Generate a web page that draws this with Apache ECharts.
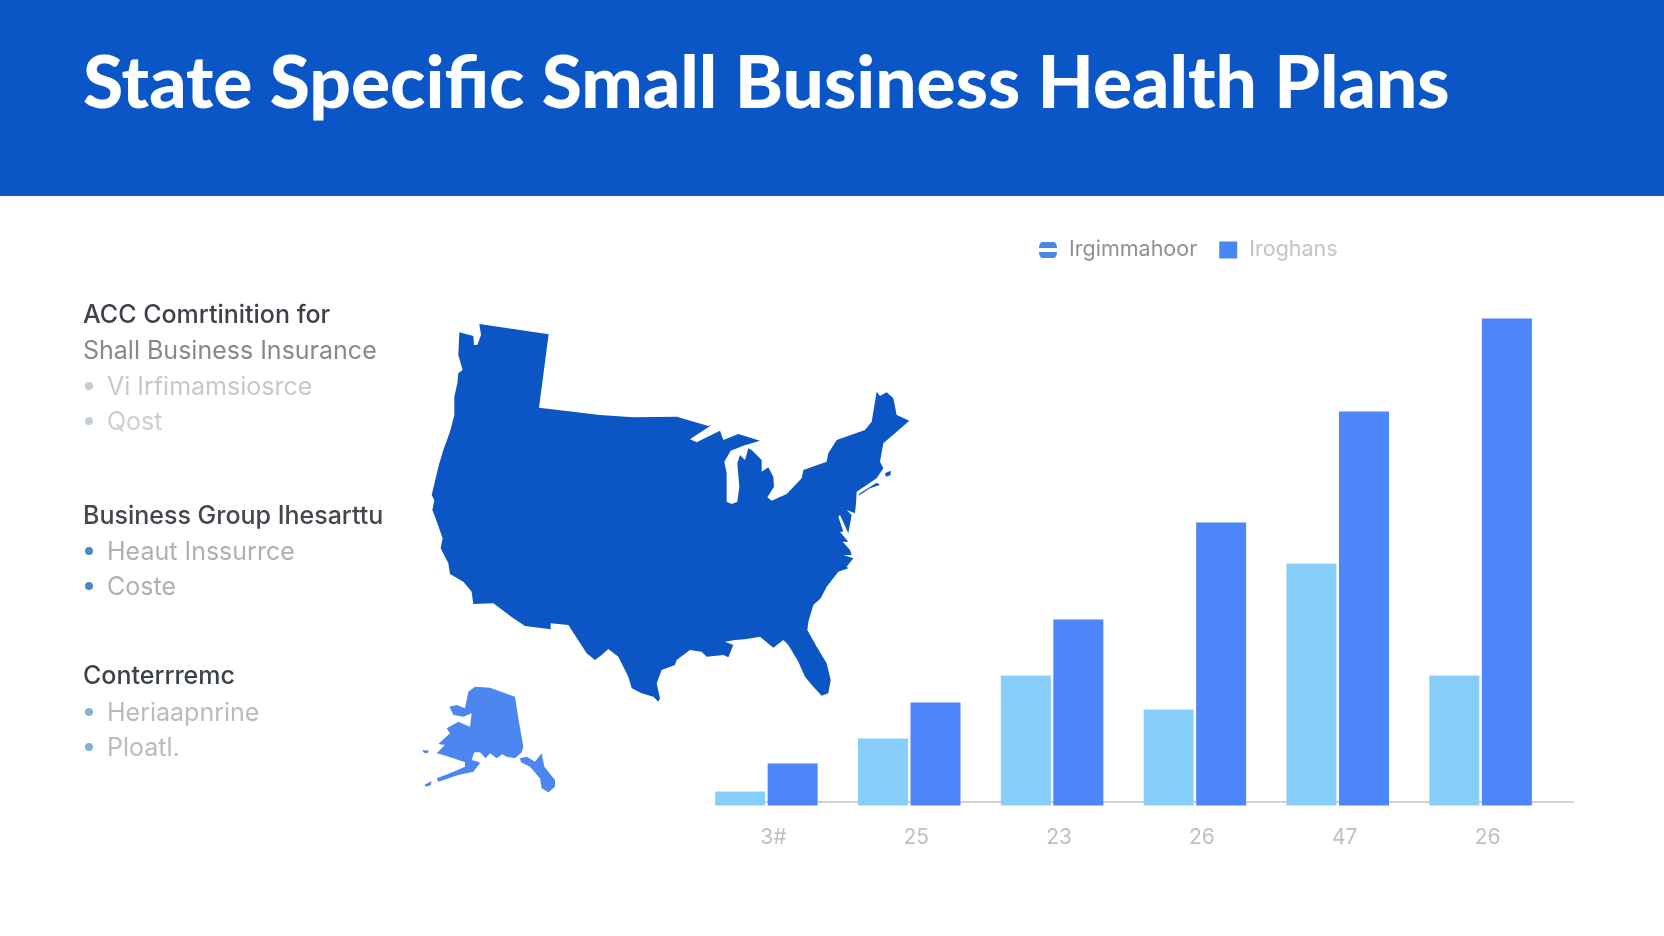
<!DOCTYPE HTML>
<html lang="en">
<head>
    <meta charset="utf-8">
    <title>State Specific Small Business Health Plans</title>
    <style>
        html, body { margin: 0; padding: 0; background: #fff; }
        #myChart { width: 1664px; height: 936px; }
    </style>
</head>
<body>
<div id="myChart"></div>
<script src="https://cdn.jsdelivr.net/npm/echarts@6/dist/echarts.min.js"></script>
<script>
    var titleText = 'State Specific Small Business Health Plans';

    // bars
    var categories = ['3#', '25', '23', '26', '47', '26'];
    var seriesNames = ['Irgimmahoor', 'Iroghans'];
    var lightValues = [14, 67, 130, 96, 242, 130];
    var darkValues = [42, 103, 186, 283, 394, 487];

    // left column text
    var headingLines = ['ACC Comrtinition for', 'Shall Business Insurance', 'Business Group Ihesarttu', 'Conterrremc'];
    var bulletLines = ['Vi Irfimamsiosrce', 'Qost', 'Heaut Inssurrce', 'Coste', 'Heriaapnrine', 'Ploatl.'];

    // map shapes, traced in their own units (y grows downwards)
    var mainlandOutline = [[178,97],[220,108],[222,135],[232,135],[243,105],[238,72],[446,103],[417,323],[600,345],[700,352],[830,350],[925,378],[935,375],[870,418],[890,427],[960,392],[970,420],[1015,402],[1080,422],[1030,437],[992,452],[973,485],[980,520],[980,605],[995,612],[1012,605],[1018,560],[1012,490],[1020,465],[1035,480],[1045,445],[1055,450],[1085,480],[1085,515],[1105,502],[1120,530],[1122,560],[1102,592],[1115,602],[1160,582],[1205,535],[1210,510],[1280,485],[1285,460],[1310,420],[1395,390],[1415,365],[1430,275],[1440,288],[1460,277],[1480,295],[1490,345],[1528,362],[1490,395],[1450,430],[1440,485],[1450,505],[1430,535],[1370,575],[1368,610],[1365,640],[1340,630],[1355,645],[1345,700],[1320,645],[1315,650],[1330,695],[1320,695],[1345,725],[1328,725],[1350,750],[1355,765],[1330,765],[1360,775],[1340,800],[1345,805],[1315,815],[1280,860],[1262,895],[1240,915],[1225,965],[1222,990],[1250,1040],[1280,1090],[1292,1140],[1285,1180],[1265,1187],[1240,1160],[1215,1130],[1195,1085],[1165,1035],[1150,1020],[1120,1043],[1080,1010],[1035,1018],[1005,1020],[975,1025],[1000,1035],[985,1072],[970,1065],[920,1070],[905,1055],[870,1050],[830,1080],[825,1095],[785,1110],[770,1150],[780,1195],[775,1205],[760,1190],[725,1180],[695,1165],[685,1130],[655,1070],[625,1047],[605,1065],[585,1080],[560,1060],[505,975],[452,970],[452,988],[375,978],[340,955],[280,910],[220,912],[215,875],[190,845],[150,822],[145,790],[122,745],[128,715],[105,650],[97,630],[103,600],[95,585],[108,530],[118,490],[130,450],[150,395],[163,345],[163,290],[172,250],[175,220],[188,210],[175,165],[178,97]];
    var longIsland = [[1375,588],[1380,580],[1430,548],[1440,555],[1410,565]];
    var nantucket = [[1455,520],[1472,512],[1472,525],[1458,530]];
    var alaskaOutline = [[225,1160],[270,1163],[345,1190],[355,1255],[370,1340],[365,1357],[345,1375],[320,1370],[307,1363],[290,1375],[270,1360],[257,1375],[240,1357],[223,1357],[215,1380],[235,1385],[240,1390],[220,1415],[175,1425],[115,1445],[110,1435],[150,1420],[195,1400],[195,1387],[160,1375],[130,1365],[110,1360],[135,1335],[115,1332],[150,1300],[140,1285],[175,1265],[210,1280],[215,1240],[190,1250],[160,1245],[148,1220],[170,1215],[195,1225],[205,1175],[225,1160]];
    var alaskaPanhandle = [[360,1375],[380,1370],[405,1385],[425,1360],[433,1400],[465,1440],[465,1460],[445,1477],[425,1465],[420,1435],[390,1400],[363,1387]];
    var aleutianA = [[67,1350],[87,1352],[82,1360],[72,1358]];
    var aleutianB = [[73,1455],[95,1443],[92,1455],[80,1460]];

    function flip(ring) {
        var out = [];
        for (var i = 0; i < ring.length; i++) {
            out.push([ring[i][0], -ring[i][1]]);
        }
        return out;
    }

    var shapeJson = {
        type: 'FeatureCollection',
        features: [{
            type: 'Feature',
            properties: { name: 'Mainland' },
            geometry: {
                type: 'MultiPolygon',
                coordinates: [[flip(mainlandOutline)], [flip(longIsland)], [flip(nantucket)]]
            }
        }, {
            type: 'Feature',
            properties: { name: 'Alaska' },
            geometry: {
                type: 'MultiPolygon',
                coordinates: [[flip(alaskaOutline)], [flip(alaskaPanhandle)], [flip(aleutianA)], [flip(aleutianB)]]
            }
        }]
    };
    echarts.registerMap('usShape', shapeJson);

    var titleFont = '"Lato", sans-serif';
    var bodyFont = '"Inter", sans-serif';

    function textItem(str, x, y, color, weight) {
        return {
            type: 'text',
            left: x,
            top: y,
            style: {
                text: str,
                fill: color,
                font: (weight || 400) + ' 25px ' + bodyFont
            }
        };
    }

    function dot(x, y, color) {
        return {
            type: 'circle',
            shape: { cx: x, cy: y, r: 4 },
            style: { fill: color }
        };
    }

    var chart = echarts.init(document.getElementById('myChart'));
    var option = {
        backgroundColor: '#ffffff',
        animation: false,
        title: {
            text: titleText,
            left: 78,
            top: 43,
            textStyle: {
                color: '#ffffff',
                fontFamily: titleFont,
                fontWeight: 900,
                fontSize: 73
            }
        },
        legend: {
            left: 1039,
            top: 239,
            padding: 0,
            itemWidth: 18,
            itemHeight: 17,
            itemGap: 22,
            selectedMode: false,
            textStyle: { fontFamily: bodyFont, fontSize: 21.5, padding: [0, 0, 0, 7] },
            data: [
                {
                    name: seriesNames[0],
                    icon: 'path://M3,0 H15 A3,6 0 0 1 18,6 H0 A3,6 0 0 1 3,0 Z M0,10 H18 A3,6 0 0 1 15,16 H3 A3,6 0 0 1 0,10 Z',
                    itemStyle: { color: '#4a86e4' },
                    textStyle: { color: '#8d9094' }
                },
                {
                    name: seriesNames[1],
                    icon: 'rect',
                    itemStyle: { color: '#4c86f2' },
                    textStyle: { color: '#c2c5c8' }
                }
            ]
        },
        grid: { left: 695, top: 305.5, width: 857, height: 500 },
        xAxis: {
            type: 'category',
            data: categories,
            axisLine: { show: false },
            axisTick: { show: false },
            axisLabel: {
                color: '#bdbfc2',
                fontFamily: bodyFont,
                fontSize: 21,
                margin: 22,
                padding: [0, 0, 0, 14]
            }
        },
        yAxis: {
            type: 'value',
            min: 0,
            max: 500,
            show: false
        },
        series: [
            {
                name: seriesNames[0],
                type: 'bar',
                data: lightValues,
                barWidth: 50,
                barGap: '5%',
                itemStyle: { color: '#87cffa' }
            },
            {
                name: seriesNames[1],
                type: 'bar',
                data: darkValues,
                barWidth: 50,
                itemStyle: { color: '#4c86fa' }
            },
            {
                type: 'map',
                map: 'usShape',
                silent: true,
                roam: false,
                showLegendSymbol: false,
                aspectScale: 1,
                boundingCoords: [[0, 0], [1560, -1560]],
                left: 400,
                top: 300,
                width: 520,
                height: 520,
                label: { show: false },
                itemStyle: { borderWidth: 0 },
                data: [
                    { name: 'Mainland', value: 1, itemStyle: { areaColor: '#0b56c4' } },
                    { name: 'Alaska', value: 1, itemStyle: { areaColor: '#4c86f0' } }
                ]
            }
        ],
        graphic: [
            { type: 'rect', z: -1, shape: { x: 0, y: 0, width: 1664, height: 196 }, style: { fill: '#0a56c6' } },
            { type: 'line', z: -1, shape: { x1: 715, y1: 802, x2: 1574, y2: 802 }, style: { stroke: '#d2d2d2', lineWidth: 2 } },

            textItem(headingLines[0], 83, 303, '#3c4249', 500),
            textItem(headingLines[1], 83, 339, '#85898e'),
            dot(89, 386, '#c6cccf'),
            textItem(bulletLines[0], 107, 375, '#c6c9cc'),
            dot(89, 421, '#c0ced8'),
            textItem(bulletLines[1], 107, 410, '#ccced0'),

            textItem(headingLines[2], 83, 504, '#42474e', 500),
            dot(89, 551, '#4a86c8'),
            textItem(bulletLines[2], 107, 540, '#adb0b4'),
            dot(89, 586, '#4a86c8'),
            textItem(bulletLines[3], 107, 575, '#adb0b4'),

            textItem(headingLines[3], 83, 664, '#3c4249', 500),
            dot(89, 712, '#84aed4'),
            textItem(bulletLines[4], 107, 701, '#b8bbbf'),
            dot(89, 747, '#84aed4'),
            textItem(bulletLines[5], 107, 736, '#b8bbbf')
        ]
    };
    chart.setOption(option);
</script>
</body>
</html>
